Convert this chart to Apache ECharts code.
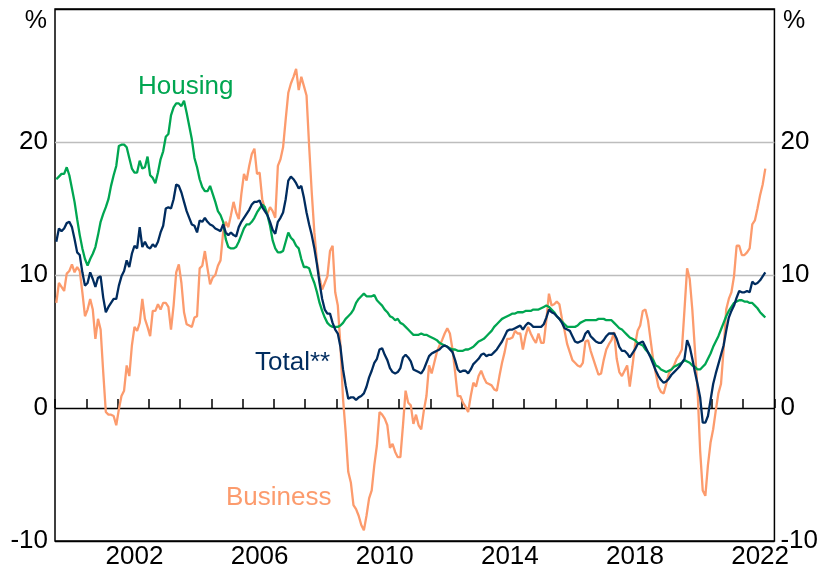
<!DOCTYPE html>
<html>
<head>
<meta charset="utf-8">
<script src="https://cdn.jsdelivr.net/npm/echarts@6/dist/echarts.min.js"></script>
<style>
  html, body { margin: 0; padding: 0; background: #fff; }
  #creditChart { width: 821px; height: 586px; }
</style>
</head>
<body>
<div id="creditChart"></div>
<script>
// monthly values, Jan 2000 - Sep 2022
var housing = [
  17.2, 17.4, 17.6, 17.6, 18.1, 17.5, 16.5, 15.5, 14.2, 13.0, 12.0, 11.2,
  10.7, 11.2, 11.6, 12.1, 13.0, 14.0, 14.6, 15.1, 15.7, 16.7, 17.5, 18.2,
  19.7, 19.8, 19.8, 19.6, 18.8, 18.0, 17.7, 17.7, 18.6, 18.0, 18.1, 18.9,
  17.5, 17.3, 16.9, 17.7, 18.7, 19.3, 20.4, 20.6, 22.0, 22.6, 22.9, 22.9,
  22.7, 23.1, 22.2, 21.2, 20.2, 18.8, 18.1, 17.2, 16.6, 16.3, 16.3, 16.7,
  16.1, 15.5, 14.8, 14.5, 14.0, 12.7, 12.1, 12.0, 12.0, 12.1, 12.5, 13.0,
  13.5, 13.8, 13.8, 14.0, 14.3, 14.7, 15.0, 15.3, 15.1, 14.5, 13.7, 12.6,
  12.0, 11.7, 11.7, 11.8, 12.5, 13.2, 12.8, 12.6, 12.2, 12.0, 11.2, 10.6,
  10.6, 10.5, 9.9, 9.4, 8.7, 7.9, 7.3, 6.8, 6.4, 6.2, 6.1, 6.1,
  6.1, 6.2, 6.4, 6.7, 6.9, 7.1, 7.4, 7.9, 8.2, 8.4, 8.6, 8.4,
  8.4, 8.4, 8.5, 8.1, 7.9, 7.7, 7.4, 7.2, 6.9, 6.8, 6.6, 6.7,
  6.4, 6.3, 6.1, 5.9, 5.7, 5.5, 5.5, 5.5, 5.6, 5.5, 5.5, 5.4,
  5.3, 5.2, 5.1, 4.9, 4.8, 4.7, 4.6, 4.5, 4.4, 4.4, 4.3, 4.3,
  4.3, 4.4, 4.4, 4.5, 4.6, 4.8, 5.0, 5.1, 5.2, 5.4, 5.6, 5.8,
  6.1, 6.3, 6.5, 6.7, 6.8, 6.9, 7.0, 7.1, 7.1, 7.2, 7.2, 7.2,
  7.3, 7.3, 7.3, 7.4, 7.4, 7.4, 7.5, 7.6, 7.7, 7.6, 7.4, 7.2,
  6.9, 6.7, 6.5, 6.3, 6.1, 6.1, 6.1, 6.1, 6.2, 6.4, 6.5, 6.6,
  6.6, 6.6, 6.6, 6.6, 6.7, 6.7, 6.7, 6.6, 6.6, 6.6, 6.4, 6.2,
  6.0, 5.9, 5.7, 5.5, 5.3, 5.2, 5.1, 4.9, 4.8, 4.7, 4.4, 4.2,
  3.9, 3.6, 3.2, 3.1, 2.9, 2.8, 2.7, 2.8, 2.9, 3.1, 3.2, 3.3,
  3.4, 3.6, 3.5, 3.4, 3.2, 3.1, 2.9, 2.9, 3.1, 3.3, 3.7, 4.1,
  4.6, 5.0, 5.4, 5.9, 6.4, 6.9, 7.3, 7.6, 7.9, 8.0, 8.1, 8.1,
  8.0, 8.0, 7.9, 7.9, 7.7, 7.5, 7.2, 7.0, 6.8
];
var business = [
  7.9, 9.4, 9.1, 8.8, 10.1, 10.3, 10.8, 10.2, 10.6, 10.3, 8.7, 6.9,
  7.4, 8.2, 7.4, 5.2, 6.7, 5.9, 2.7, -0.3, -0.5, -0.5, -0.6, -1.3,
  -0.1, 0.9, 1.3, 3.2, 2.4, 4.7, 6.1, 5.8, 6.4, 8.2, 6.7, 6.1,
  5.4, 7.3, 7.3, 7.8, 7.4, 7.9, 7.9, 7.6, 5.9, 7.7, 10.2, 10.8,
  9.4, 7.2, 6.3, 6.2, 6.1, 6.8, 6.9, 10.5, 10.7, 11.8, 10.5, 9.3,
  9.8, 10.0, 10.7, 11.1, 13.2, 14.0, 13.6, 14.5, 15.5, 14.7, 14.2, 16.1,
  17.6, 17.1, 18.2, 19.1, 19.5, 17.6, 17.7, 15.7, 15.0, 14.6, 15.1, 14.8,
  14.3, 18.2, 18.7, 19.6, 21.7, 23.7, 24.4, 24.9, 25.5, 23.9, 24.9, 24.2,
  23.5, 19.7, 16.2, 13.2, 11.0, 9.8, 8.9, 9.4, 9.9, 11.8, 12.2, 8.7,
  7.7, 4.7, 0.7, -1.8, -4.8, -5.6, -7.3, -7.6, -8.1, -8.8, -9.2, -8.1,
  -6.8, -6.2, -4.3, -2.8, -0.3, -0.5, -0.8, -1.3, -3.0, -2.7, -3.3, -3.7,
  -3.7, -1.3, 1.3, 0.4, 0.2, -1.2, -0.5, -1.3, -1.6, -0.2, 0.9, 3.2,
  2.6, 3.4, 4.2, 4.7, 5.1, 5.6, 6.0, 5.6, 4.4, 2.7, 0.9, 0.9,
  0.4, 0.1, -0.3, 0.9, 1.9, 1.6, 2.4, 2.8, 2.3, 1.9, 1.8, 1.7,
  1.4, 1.3, 2.4, 3.4, 4.2, 5.2, 5.2, 5.3, 5.8, 5.6, 5.6, 4.4,
  5.4, 6.1, 5.6, 5.2, 4.9, 5.6, 4.9, 4.9, 6.6, 8.6, 7.7, 7.8,
  8.0, 7.8, 6.7, 5.8, 4.8, 4.2, 3.6, 3.4, 3.2, 3.1, 3.4, 5.0,
  5.1, 4.3, 3.7, 3.1, 2.5, 2.6, 3.6, 4.4, 4.8, 5.1, 5.7, 3.7,
  2.7, 2.4, 2.8, 3.2, 1.6, 3.1, 4.7, 5.8, 6.2, 7.3, 7.4, 6.6,
  5.1, 3.6, 2.6, 1.6, 1.2, 1.1, 1.8, 2.6, 2.9, 3.2, 3.7, 4.0,
  4.4, 7.4, 10.5, 9.7, 7.4, 4.4, 1.4, -3.2, -6.2, -6.6, -4.3, -2.6,
  -1.6, -0.2, 1.1, 1.8, 4.4, 7.4, 8.2, 8.7, 9.9, 12.2, 12.2, 11.5,
  11.5, 11.7, 12.0, 13.8, 14.1, 15.0, 16.0, 16.8, 18.0
];
var total = [
  12.5, 13.5, 13.3, 13.5, 13.9, 14.0, 13.6, 12.7, 11.7, 11.5, 10.2, 9.2,
  9.4, 10.2, 9.7, 9.1, 9.8, 9.9, 8.3, 7.2, 7.6, 7.9, 8.2, 8.2,
  9.2, 9.9, 10.3, 11.1, 10.6, 11.6, 12.2, 12.0, 13.6, 12.1, 12.5, 12.1,
  12.0, 12.3, 12.1, 12.5, 13.2, 13.7, 15.0, 15.1, 15.0, 15.7, 16.8, 16.7,
  16.2, 15.5, 14.8, 14.3, 13.8, 13.7, 13.2, 14.1, 14.0, 14.3, 14.0, 13.8,
  13.7, 13.5, 13.4, 13.3, 13.8, 13.2, 13.0, 13.2, 13.0, 12.9, 13.6, 14.0,
  14.3, 14.6, 14.9, 15.3, 15.5, 15.5, 15.6, 15.1, 14.8, 14.5, 14.0, 13.4,
  13.1, 14.0, 14.3, 14.7, 15.7, 17.1, 17.4, 17.2, 16.9, 16.5, 16.7, 15.8,
  14.7, 13.8, 13.0, 12.0, 10.8, 9.4, 8.2, 7.4, 7.1, 7.1, 6.4, 5.9,
  5.6, 4.6, 2.9, 1.7, 0.7, 0.8, 0.8, 0.6, 0.8, 0.9, 1.1, 1.6,
  2.3, 2.8, 3.4, 3.7, 4.4, 4.5, 4.0, 3.6, 3.0, 2.7, 2.6, 2.7,
  3.0, 3.8, 4.0, 3.8, 3.5, 2.9, 2.8, 2.7, 2.6, 2.9, 3.4, 3.9,
  4.1, 4.2, 4.3, 4.4, 4.6, 4.7, 4.6, 4.4, 4.2, 3.6, 2.9, 2.7,
  2.8, 2.8, 2.6, 2.9, 3.3, 3.5, 3.7, 4.0, 4.1, 3.9, 4.0, 4.0,
  4.2, 4.4, 4.7, 5.0, 5.4, 5.8, 5.9, 5.9, 6.0, 6.1, 6.2, 5.9,
  6.2, 6.4, 6.3, 6.1, 6.1, 6.1, 6.1, 6.3, 6.8, 7.4, 7.2, 7.1,
  6.9, 6.7, 6.4, 6.0, 5.9, 5.8, 5.4, 5.0, 4.9, 5.0, 5.1, 5.6,
  5.8, 5.4, 5.2, 5.0, 4.9, 4.9, 5.1, 5.4, 5.6, 5.6, 5.6, 5.2,
  4.6, 4.3, 4.3, 4.1, 3.8, 4.1, 4.4, 4.8, 4.9, 5.0, 4.6, 4.2,
  3.8, 3.3, 2.8, 2.4, 2.1, 1.9, 2.0, 2.2, 2.5, 2.7, 2.9, 3.1,
  3.4, 3.7, 5.1, 4.6, 3.7, 2.7, 1.8, 0.8, -1.1, -1.1, -0.6, 0.6,
  1.8, 2.6, 3.3, 4.0, 4.7, 5.8, 6.8, 7.3, 7.7, 8.3, 8.8, 8.7,
  8.7, 8.8, 8.7, 9.5, 9.3, 9.4, 9.6, 9.9, 10.2
];
var yearLabels = ['2002', '2006', '2010', '2014', '2018', '2022'];

// one category per month, Jan 2000 - Dec 2022
var months = [];
for (var y = 2000; y <= 2022; y++) {
  for (var m = 1; m <= 12; m++) {
    months.push(y + '-' + (m < 10 ? '0' + m : m));
  }
}

var font = '"Liberation Sans", Arial, sans-serif';
var green = '#00a651';
var navy = '#002c5f';
var orange = '#fc9b6d';

var chartDom = document.getElementById('creditChart');
var myChart = echarts.init(chartDom);
var option;

option = {
  animation: false,
  grid: {
    left: 55,
    right: 44,
    top: 9,
    bottom: 45,
    show: true,
    borderColor: '#000',
    borderWidth: 1.5
  },
  xAxis: {
    type: 'category',
    data: months,
    boundaryGap: true,
    axisLine: { show: false },
    axisTick: {
      show: true,
      inside: true,
      length: 9,
      interval: function(index, value) {
        return value.slice(5) === '01';
      },
      lineStyle: { color: '#000', width: 1.5 }
    },
    axisLabel: {
      interval: function(index, value) {
        return value.slice(5) === '07' && yearLabels.indexOf(value.slice(0, 4)) >= 0;
      },
      formatter: function(value) {
        return value.slice(0, 4);
      },
      color: '#000',
      fontSize: 26,
      fontFamily: font,
      margin: 3
    },
    splitLine: { show: false }
  },
  yAxis: [
    {
      type: 'value',
      min: -10,
      max: 30,
      interval: 10,
      axisLine: { show: false },
      axisTick: { show: false },
      axisLabel: {
        color: '#000',
        fontSize: 26,
        fontFamily: font,
        margin: 7,
        formatter: function(v) { return v === 30 ? '' : String(v); }
      },
      splitLine: {
        show: true,
        lineStyle: { color: ['#000', '#000', '#bdbdbd', '#bdbdbd', '#000'], width: 1.3 }
      }
    },
    {
      type: 'value',
      position: 'right',
      min: -10,
      max: 30,
      interval: 10,
      axisLine: { show: false },
      axisTick: { show: false },
      axisLabel: {
        color: '#000',
        fontSize: 26,
        fontFamily: font,
        margin: 6,
        formatter: function(v) { return v === 30 ? '' : String(v); }
      },
      splitLine: { show: false }
    }
  ],
  graphic: [
    { type: 'text', x: 47, y: 21, style: { text: '%', fill: '#000', font: '25px ' + font, textAlign: 'right', textVerticalAlign: 'middle' } },
    { type: 'text', x: 783, y: 21, style: { text: '%', fill: '#000', font: '25px ' + font, textAlign: 'left', textVerticalAlign: 'middle' } },
    { type: 'text', x: 138, y: 87, style: { text: 'Housing', fill: green, font: '26px ' + font, textVerticalAlign: 'middle' } },
    { type: 'text', x: 255, y: 363, style: { text: 'Total**', fill: navy, font: '26px ' + font, textVerticalAlign: 'middle' } },
    { type: 'text', x: 226, y: 498, style: { text: 'Business', fill: orange, font: '26px ' + font, textVerticalAlign: 'middle' } }
  ],
  series: [
    {
      name: 'Business',
      type: 'line',
      data: business,
      showSymbol: false,
      symbol: 'none',
      lineStyle: { color: orange, width: 2.3 },
      z: 2
    },
    {
      name: 'Housing',
      type: 'line',
      data: housing,
      showSymbol: false,
      symbol: 'none',
      lineStyle: { color: green, width: 2.3 },
      z: 3
    },
    {
      name: 'Total**',
      type: 'line',
      data: total,
      showSymbol: false,
      symbol: 'none',
      lineStyle: { color: navy, width: 2.3 },
      z: 4
    }
  ]
};

option && myChart.setOption(option);
</script>
</body>
</html>
